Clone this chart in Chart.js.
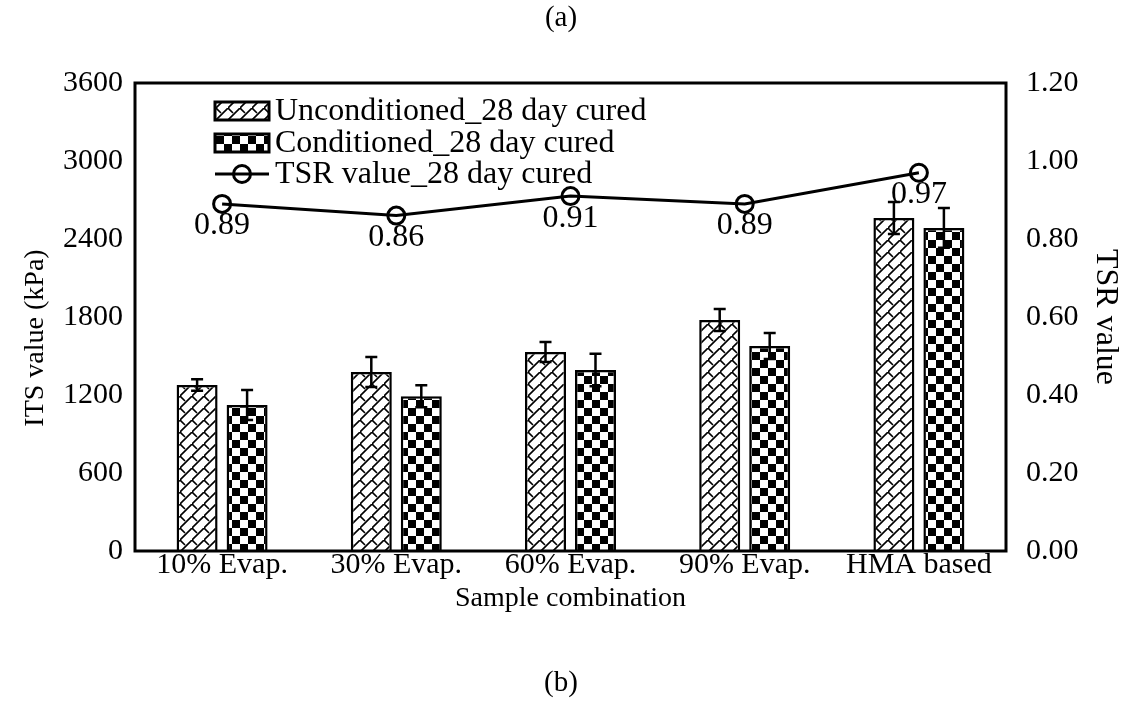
<!DOCTYPE html>
<html>
<head>
<meta charset="utf-8">
<script src="https://cdn.jsdelivr.net/npm/chart.js@4.4.0/dist/chart.umd.min.js"></script>
<style>
  html, body { margin: 0; padding: 0; background: #fff; }
  #wrap { width: 1122px; height: 702px; }
</style>
</head>
<body>
<div id="wrap"><canvas id="grafico" width="1122" height="702"></canvas></div>
<script>
// data
var categorias = ['10% Evap.', '30% Evap.', '60% Evap.', '90% Evap.', 'HMA based'];
var noAcond = [1277, 1377, 1531, 1777, 2562];
var noAcondErr = [45, 115, 77, 85, 123];
var acond = [1123, 1190, 1392, 1577, 2485];
var acondErr = [115, 85, 125, 100, 153];
var tsr = [0.89, 0.86, 0.91, 0.89, 0.97];
var nombres = ['Unconditioned_28 day cured', 'Conditioned_28 day cured', 'TSR value_28 day cured'];

var FUENTE = 'Liberation Serif';

function patronRayas() {
    var c = document.createElement('canvas');
    c.width = 12; c.height = 12;
    var g = c.getContext('2d');
    g.fillStyle = '#fff';
    g.fillRect(0, 0, 12, 12);
    g.strokeStyle = '#000';
    g.lineWidth = 1.6;
    g.beginPath();
    g.moveTo(-1, 13); g.lineTo(13, -1);
    g.moveTo(0, 0); g.lineTo(5, 5);
    g.stroke();
    return g.createPattern(c, 'repeat');
}

function patronDamero() {
    var c = document.createElement('canvas');
    c.width = 16; c.height = 16;
    var g = c.getContext('2d');
    g.fillStyle = '#fff';
    g.fillRect(0, 0, 16, 16);
    g.fillStyle = '#000';
    g.fillRect(0, 0, 8, 8);
    g.fillRect(8, 8, 8, 8);
    return g.createPattern(c, 'repeat');
}

var rayas = patronRayas();
var damero = patronDamero();

// marco, barras de error, etiquetas, leyenda y textos (a) (b)
var extras = {
    id: 'extras',
    afterDatasetsDraw: function(chart) {
        var ctx = chart.ctx;
        var a = chart.chartArea;
        var y = chart.scales.y;
        ctx.save();

        // error bars
        var errores = [noAcondErr, acondErr];
        var medias = [noAcond, acond];
        ctx.strokeStyle = '#000';
        ctx.lineWidth = 2.5;
        for (var d = 0; d < 2; d++) {
            var meta = chart.getDatasetMeta(d);
            meta.data.forEach(function(el, i) {
                var top = y.getPixelForValue(medias[d][i] + errores[d][i]);
                var bot = y.getPixelForValue(medias[d][i] - errores[d][i]);
                ctx.beginPath();
                ctx.moveTo(el.x, top); ctx.lineTo(el.x, bot);
                ctx.moveTo(el.x - 6, top); ctx.lineTo(el.x + 6, top);
                ctx.moveTo(el.x - 6, bot); ctx.lineTo(el.x + 6, bot);
                ctx.stroke();
            });
        }

        // frame
        ctx.lineWidth = 3;
        ctx.strokeRect(a.left, a.top, a.right - a.left, a.bottom - a.top);

        // TSR labels
        ctx.fillStyle = '#000';
        ctx.font = '32px "' + FUENTE + '"';
        ctx.textAlign = 'center';
        ctx.textBaseline = 'middle';
        var lm = chart.getDatasetMeta(2);
        lm.data.forEach(function(p, i) {
            ctx.fillText(tsr[i].toFixed(2), p.x, p.y + 22);
        });

        // legend
        var lx = 215, ly = [111, 143, 174];
        var rellenos = [rayas, damero];
        for (var k = 0; k < 2; k++) {
            ctx.fillStyle = rellenos[k];
            ctx.fillRect(lx, ly[k] - 9, 54, 18);
            ctx.lineWidth = 3;
            ctx.strokeRect(lx, ly[k] - 9, 54, 18);
        }
        ctx.lineWidth = 3;
        ctx.beginPath();
        ctx.moveTo(lx, ly[2]); ctx.lineTo(lx + 54, ly[2]);
        ctx.stroke();
        ctx.beginPath();
        ctx.arc(lx + 27, ly[2], 8.5, 0, Math.PI * 2);
        ctx.stroke();
        ctx.fillStyle = '#000';
        ctx.textAlign = 'left';
        ctx.font = '32px "' + FUENTE + '"';
        for (var n = 0; n < 3; n++) {
            ctx.fillText(nombres[n], 275, ly[n] + 1);
        }

        // left axis title
        ctx.save();
        ctx.translate(36, 338);
        ctx.rotate(-Math.PI / 2);
        ctx.textAlign = 'center';
        ctx.font = '28px "' + FUENTE + '"';
        ctx.fillText('ITS value (kPa)', 0, 0);
        ctx.restore();

        // (a) (b)
        ctx.textAlign = 'center';
        ctx.font = '29px "' + FUENTE + '"';
        ctx.fillText('(a)', 561, 18);
        ctx.fillText('(b)', 561, 683);
        ctx.restore();
    }
};

var datos = {
    labels: categorias,
    datasets: [{
        label: nombres[0],
        data: noAcond,
        backgroundColor: rayas,
        borderColor: '#000',
        borderWidth: 2.5,
        yAxisID: 'y',
        order: 2
    }, {
        label: nombres[1],
        data: acond,
        backgroundColor: damero,
        borderColor: '#000',
        borderWidth: 2.5,
        yAxisID: 'y',
        order: 2
    }, {
        type: 'line',
        label: nombres[2],
        data: tsr,
        borderColor: '#000',
        borderWidth: 3,
        backgroundColor: 'rgba(0,0,0,0)',
        pointStyle: 'circle',
        pointRadius: 8.5,
        pointBorderWidth: 3,
        pointBackgroundColor: 'rgba(0,0,0,0)',
        pointBorderColor: '#000',
        yAxisID: 'y1',
        order: 1
    }]
};

var config = {
    type: 'bar',
    data: datos,
    options: {
        responsive: false,
        animation: false,
        devicePixelRatio: 1,
        layout: { padding: { top: 83, left: 0, right: 0, bottom: 0 } },
        datasets: { bar: { categoryPercentage: 0.574, barPercentage: 0.82 } },
        plugins: { legend: { display: false }, tooltip: { enabled: false } },
        scales: {
            x: {
                grid: { display: false, drawTicks: false },
                border: { display: false },
                ticks: { color: '#000', padding: -1, font: { family: FUENTE, size: 30, lineHeight: 1 } },
                title: { display: true, text: 'Sample combination', color: '#000',
                    font: { family: FUENTE, size: 28, lineHeight: 1 }, padding: { bottom: 89 } },
                afterFit: function(s) { s.height = 151; }
            },
            y: {
                position: 'left',
                min: 0, max: 3600,
                grid: { display: false, drawTicks: false },
                border: { display: false },
                ticks: { stepSize: 600, color: '#000', padding: 12, font: { family: FUENTE, size: 30 },
                    callback: function(v) { return String(v); } },
                afterFit: function(s) { s.width = 135; }
            },
            y1: {
                position: 'right',
                min: 0, max: 1.2,
                grid: { display: false, drawTicks: false },
                border: { display: false },
                ticks: { stepSize: 0.2, color: '#000', padding: 20, font: { family: FUENTE, size: 30 },
                    callback: function(v) { return Number(v).toFixed(2); } },
                title: { display: true, text: 'TSR value', color: '#000',
                    font: { family: FUENTE, size: 32, lineHeight: 1 }, padding: { top: 1 } },
                afterFit: function(s) { s.width = 116; }
            }
        }
    },
    plugins: [extras]
};

var myChart = new Chart(document.getElementById('grafico'), config);
</script>
</body>
</html>
